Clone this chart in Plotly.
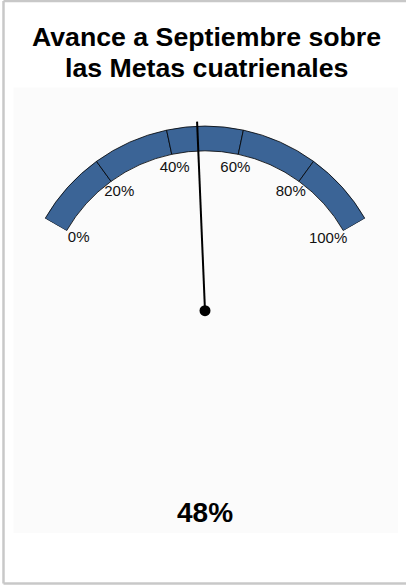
import plotly.graph_objects as go

# ---- data ----
title_lines = ["Avance a Septiembre sobre", "las Metas cuatrienales"]
tick_values = [0, 20, 40, 60, 80, 100]
tick_labels = ["0%", "20%", "40%", "60%", "80%", "100%"]
segment_start = [0, 20, 40, 60, 80]
segment_size = [20, 20, 20, 20, 20]
value = 48
value_label = "48%"

# ---- geometry / style ----
W, H = 406, 587
SPAN_DEG = 120.0          # gauge angular span
DEG_PER_UNIT = SPAN_DEG / 100.0
INNER = 0.866             # inner radius of band (outer = 1)
NEEDLE_LEN = 1.025
RMAX = 1.03
CX, CY = 205.0, 310.7     # pivot position in px
R_OUT_PX = 184.6
R_RANGE_PX = R_OUT_PX * RMAX
BAND_COLOR = "#3b6496"
FONT = "Liberation Sans, Arial, sans-serif"

label_r = [0.79, 0.79, 0.79, 0.79, 0.79, 0.77]

fig = go.Figure()

# band segments
fig.add_trace(go.Barpolar(
    theta=[(s + w / 2.0) * DEG_PER_UNIT for s, w in zip(segment_start, segment_size)],
    width=[w * DEG_PER_UNIT for w in segment_size],
    r=[1.0 - INNER] * len(segment_start),
    base=[INNER] * len(segment_start),
    marker=dict(color=BAND_COLOR, line=dict(color="black", width=0.8)),
    hoverinfo="skip",
    showlegend=False,
))

# tick labels
fig.add_trace(go.Scatterpolar(
    theta=[v * DEG_PER_UNIT for v in tick_values],
    r=label_r,
    mode="text",
    text=tick_labels,
    textposition="middle center",
    textfont=dict(family=FONT, size=15, color="#111111"),
    hoverinfo="skip",
    showlegend=False,
    cliponaxis=False,
))

# needle
fig.add_trace(go.Scatterpolar(
    theta=[value * DEG_PER_UNIT, value * DEG_PER_UNIT],
    r=[0, NEEDLE_LEN],
    mode="lines",
    line=dict(color="black", width=2),
    hoverinfo="skip",
    showlegend=False,
    cliponaxis=False,
))

# pivot
fig.add_trace(go.Scatterpolar(
    theta=[value * DEG_PER_UNIT],
    r=[0],
    mode="markers",
    marker=dict(color="black", size=11),
    hoverinfo="skip",
    showlegend=False,
    cliponaxis=False,
))

FRAME = "#c8c8c8"
half_w = R_RANGE_PX * 0.8660254
fx0, fy_top, fy_bot = 3.5 / W, 1 - 1.0 / H, 1 - 583.5 / H
fig.update_layout(
    width=W, height=H,
    margin=dict(l=0, r=0, t=0, b=0),
    paper_bgcolor="white",
    plot_bgcolor="white",
    polar=dict(
        domain=dict(x=[(CX - half_w) / W, (CX + half_w) / W],
                    y=[1 - CY / H, 1 - (CY - R_RANGE_PX) / H]),
        sector=[30, 150],
        hole=0,
        bgcolor="rgba(0,0,0,0)",
        radialaxis=dict(visible=False, range=[0, RMAX]),
        angularaxis=dict(visible=False, rotation=150, direction="clockwise",
                         showline=False, showgrid=False, ticks=""),
        barmode="overlay",
    ),
    shapes=[
        # plot area
        dict(type="rect", xref="paper", yref="paper",
             x0=13.5 / W, x1=398 / W, y0=1 - 533 / H, y1=1 - 87.5 / H,
             line=dict(width=0), fillcolor="#fbfbfb", layer="below"),
        # outer frame (left, top, bottom)
        dict(type="line", xref="paper", yref="paper", x0=fx0, x1=fx0, y0=fy_bot, y1=fy_top,
             line=dict(color=FRAME, width=2.5), layer="below"),
        dict(type="line", xref="paper", yref="paper", x0=fx0, x1=1.0, y0=fy_top, y1=fy_top,
             line=dict(color=FRAME, width=2.5), layer="below"),
        dict(type="line", xref="paper", yref="paper", x0=fx0, x1=1.0, y0=fy_bot, y1=fy_bot,
             line=dict(color=FRAME, width=2.5), layer="below"),
    ],
    annotations=[
        dict(text="<b>%s</b>" % title_lines[0], xref="paper", yref="paper",
             x=206 / W, y=1 - 37 / H, xanchor="center", yanchor="middle",
             showarrow=False, font=dict(family=FONT, size=26.7, color="black")),
        dict(text="<b>%s</b>" % title_lines[1], xref="paper", yref="paper",
             x=206 / W, y=1 - 67.5 / H, xanchor="center", yanchor="middle",
             showarrow=False, font=dict(family=FONT, size=26.7, color="black")),
        dict(text="<b>%s</b>" % value_label, xref="paper", yref="paper",
             x=204.5 / W, y=1 - 512 / H, xanchor="center", yanchor="middle",
             showarrow=False, font=dict(family=FONT, size=28, color="black")),
    ],
)

fig.write_html("out.html",
               config={"displayModeBar": False},
               post_script="document.body.style.margin='0';document.body.style.overflow='hidden';")
